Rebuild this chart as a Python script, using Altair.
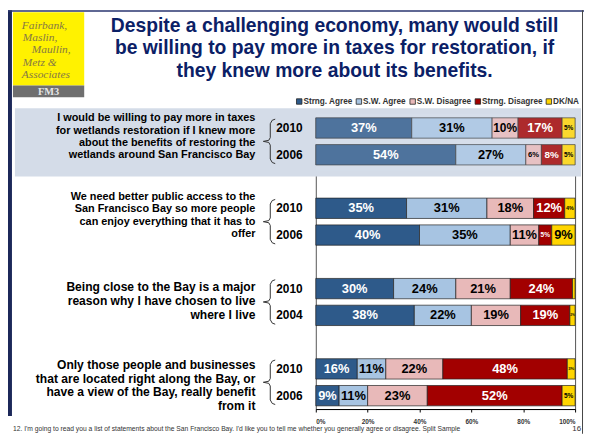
import altair as alt
import pandas as pd

# ---------------- data ----------------
categories = ["Strng. Agree", "S.W. Agree", "S.W. Disagree", "Strng. Disagree", "DK/NA"]
colors = ["#2e5a8a", "#a7c4e2", "#e8b9b9", "#a20000", "#ffd500"]

statements = [
    ["I would be willing to pay more in taxes", "for wetlands restoration if I knew more",
     "about the benefits of restoring the", "wetlands around San Francisco Bay"],
    ["We need better public access to the", "San Francisco Bay so more people",
     "can enjoy everything that it has to", "offer"],
    ["Being close to the Bay is a major", "reason why I have chosen to live", "where I live"],
    ["Only those people and businesses", "that are located right along the Bay, or",
     "have a view of the Bay, really benefit", "from it"],
]
years = ["2010", "2006", "2010", "2006", "2010", "2004", "2010", "2006"]

strng_agree    = [37, 54, 35, 40, 30, 38, 16, 9]
sw_agree       = [31, 27, 31, 35, 24, 22, 11, 11]
sw_disagree    = [10, 6, 18, 11, 21, 19, 22, 23]
strng_disagree = [17, 8, 12, 5, 24, 19, 48, 52]
dk_na          = [5, 5, 4, 9, 1, 2, 3, 5]

x_ticks = [0, 20, 40, 60, 80, 100]

title_lines = ["Despite a challenging economy, many would still",
               "be willing to pay more in taxes for restoration, if",
               "they knew more about its benefits."]
logo_lines = ["Fairbank,", "Maslin,", "Maullin,", "Metz &", "Associates"]
logo_tag = "FM3"
footnote = ("12.  I'm going to read you a list of statements about the San Francisco Bay.  "
            "I'd like you to tell me whether you generally agree or disagree. Split Sample")
page_number = "16"

# ---------------- layout ----------------
W, H = 262, 299
OX, OY = 319, 112            # page position of the plot origin
Y_DOMAIN = [-0.555, 10.5]
bar_slots = [0, 1, 3, 4, 6, 7, 9, 10]
PX_PCT = W / 100.0
PX_SLOT = H / (Y_DOMAIN[1] - Y_DOMAIN[0])
FONT = "Liberation Sans"

def page_y_to_slot(py):
    return (py - OY) / PX_SLOT + Y_DOMAIN[0]

xs = alt.Scale(domain=[0, 100], nice=False, zero=False)
ys = alt.Scale(domain=Y_DOMAIN, reverse=True, nice=False, zero=False)
cs = alt.Scale(domain=categories, range=colors)

# bars
series = [strng_agree, sw_agree, sw_disagree, strng_disagree, dk_na]
rows = []
for b, slot in enumerate(bar_slots):
    start = 0
    for ci, cat in enumerate(categories):
        v = series[ci][b]
        rows.append(dict(cat=cat, order=ci, start=start, end=start + v, v=v,
                         slot=slot, y0=slot - 0.38, y1=slot + 0.38))
        start += v
bars_df = pd.DataFrame(rows)

lab = bars_df[bars_df.v >= 2].copy()
lab["mid"] = (lab.start + lab.end) / 2
lab["txt"] = lab.v.astype(str) + "%"
def fsize(v):
    em = 0.556 * len(str(v)) + 0.889
    by_w = v * PX_PCT * 0.92 / em
    by_v = 13 if v >= 9 else v * 1.15 + 0.8
    return round(min(13, by_w, by_v), 2)
lab["fs"] = lab.v.apply(fsize)
lab["tc"] = lab.cat.map(lambda c: "white" if c in ("Strng. Agree", "Strng. Disagree") else "black")

year_df = pd.DataFrame({"slot": bar_slots, "year": years})

# question lines
text_centers = [136, 215.4, 302, 387.3]
line_heights = [12.5, 12.5, 14, 14]
font_sizes = [11, 11, 12.2, 12.2]
q_rows = []
for g, lines in enumerate(statements):
    n = len(lines)
    for i, t in enumerate(lines):
        py = text_centers[g] + (i - (n - 1) / 2) * line_heights[g]
        q_rows.append(dict(t=t, y=page_y_to_slot(py), fs=font_sizes[g]))
q_df = pd.DataFrame(q_rows)

# braces (x in px relative to plot origin, y in slot offsets)
brace_tpl = [(-41, -0.33), (-44, -0.29), (-46, -0.16), (-46, 0.36), (-47.5, 0.46),
             (-53, 0.5), (-47.5, 0.54), (-46, 0.64), (-46, 1.16), (-44, 1.29), (-41, 1.33)]
br_rows = []
for g in range(4):
    p = bar_slots[2 * g]
    for k, (dx, dy) in enumerate(brace_tpl):
        br_rows.append(dict(g=g, k=k, bx=dx / PX_PCT, by=p + dy))
br_df = pd.DataFrame(br_rows)

one = pd.DataFrame({"k": [0]})

def rect(x1, x2, y1, y2, color, opacity=1, **kw):
    return alt.Chart(one).mark_rect(color=color, opacity=opacity, **kw).encode(
        x=alt.value(x1 - OX), x2=alt.value(x2 - OX),
        y=alt.value(y1 - OY), y2=alt.value(y2 - OY))

def txt(text, px, py, **kw):
    return alt.Chart(one).mark_text(text=text, **kw).encode(
        x=alt.value(px - OX), y=alt.value(py - OY))

layers = []
# frame & shading
layers.append(rect(15, 587, 107, 176, "#d4dce8"))
layers.append(rect(8, 12, 8, 418, "#1c2859"))
layers.append(rect(8, 590, 8, 9.5, "#2a3670"))
layers.append(rect(588, 589, 8, 436, "#444"))
# logo
layers.append(rect(13, 85, 10, 84, "#fff200"))
layers.append(rect(13, 85, 84, 96, "#6f6f6f"))
logo_x = [22, 23, 32, 23, 22]
logo_y = [24, 36.3, 48.6, 60.9, 73.2]
for t, lx, ly in zip(logo_lines, logo_x, logo_y):
    layers.append(txt(t, lx, ly, align="left", baseline="middle", font="Liberation Serif",
                      fontStyle="italic", fontSize=11.5, color="#857845"))
layers.append(txt(logo_tag, 49, 90.5, align="center", baseline="middle", font="Liberation Serif",
                  fontWeight="bold", fontSize=10.5, color="#e4e4e4"))
# title
layers.append(txt("\n".join(title_lines), 338, 30, align="center", baseline="alphabetic",
                  font=FONT, fontWeight="bold", fontSize=19.5, lineBreak="\n", lineHeight=22.5,
                  color="#0b2066"))

# legend (drawn by hand, colours from the same list)
LEG_FS = 8.3
leg_em = [6.001, 5.279, 6.669, 7.381, 3.166]   # Arial-bold widths of the labels, in em
lx = 299.5
for cat, col, em in zip(categories, colors, leg_em):
    layers.append(rect(lx, lx + 5.5, 97.5, 103, col, stroke="#222", strokeWidth=0.8))
    layers.append(txt(cat, lx + 7, 100.5, align="left", baseline="middle", font=FONT,
                      fontWeight="bold", fontSize=LEG_FS, color="#333"))
    lx += 7 + em * LEG_FS + 3.5

# bars
bars = alt.Chart(bars_df).mark_rect(stroke="#222", strokeWidth=0.7).encode(
    x=alt.X("start:Q", scale=xs, title=None,
            axis=alt.Axis(values=x_ticks, labelExpr="datum.value + '%'", grid=False,
                          domainColor="#000", tickColor="#000", tickSize=3,
                          labelFont=FONT, labelFontSize=6.5, labelFontWeight="bold",
                          labelColor="#333", labelPadding=7)),
    x2="end:Q",
    y=alt.Y("y0:Q", scale=ys, axis=None, title=None),
    y2="y1:Q",
    color=alt.Color("cat:N", scale=cs, legend=None),
    order=alt.Order("order:Q"),
)
layers.append(bars)
# light texture over the highlighted first statement
layers.append(rect(OX, OX + W, 112.5, 170, "#e3e9f2", opacity=0.18))

labels = alt.Chart(lab).mark_text(font=FONT, fontWeight="bold", baseline="middle",
                                  align="center").encode(
    x=alt.X("mid:Q", scale=xs, title=None),
    y=alt.Y("slot:Q", scale=ys, axis=None, title=None),
    text="txt:N",
    size=alt.Size("fs:Q", scale=None, legend=None),
    color=alt.Color("tc:N", scale=None, legend=None),
)
layers.append(labels)

yr = alt.Chart(year_df).mark_text(font=FONT, fontWeight="bold", fontSize=12, align="left",
                                  baseline="middle", color="black").encode(
    x=alt.value(279 - OX),
    y=alt.Y("slot:Q", scale=ys, axis=None, title=None),
    text="year:N",
)
layers.append(yr)

qs = alt.Chart(q_df).mark_text(font=FONT, fontWeight="bold", align="right",
                               baseline="middle", color="black").encode(
    x=alt.value(258 - OX),
    y=alt.Y("y:Q", scale=ys, axis=None, title=None),
    text="t:N",
    size=alt.Size("fs:Q", scale=None, legend=None),
)
layers.append(qs)

braces = alt.Chart(br_df).mark_line(color="#333", strokeWidth=1, interpolate="linear").encode(
    x=alt.X("bx:Q", scale=xs, title=None),
    y=alt.Y("by:Q", scale=ys, axis=None, title=None),
    detail="g:N",
    order="k:Q",
)
layers.append(braces)

# footnote
layers.append(txt(footnote, 13, 431.5, align="left", baseline="middle", font=FONT,
                  fontSize=6.8, color="#333"))
layers.append(txt(page_number, 587, 431.5, align="right", baseline="middle", font=FONT,
                  fontSize=8, color="#333"))

chart = alt.layer(*layers).properties(
    width=W, height=H, background="white",
    autosize=alt.AutoSizeParams(type="none"),
    padding={"left": OX - 8, "top": OY - 8, "right": 590 - OX - W, "bottom": 436 - OY - H},
).configure_view(stroke="#555", strokeWidth=1)

chart.save("out.html", embed_options={"renderer": "svg", "actions": False})
